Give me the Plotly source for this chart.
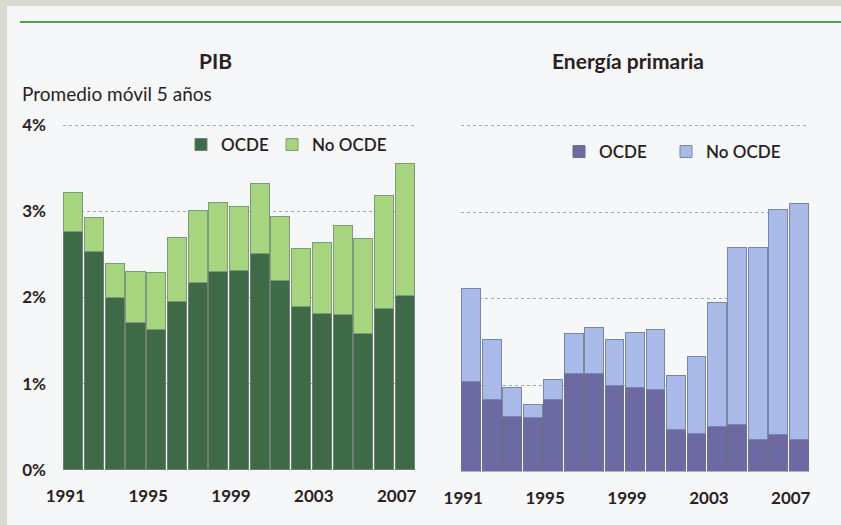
import plotly.graph_objects as go

W, H = 841, 525

years = list(range(1991, 2008))
tick_years = [1991, 1995, 1999, 2003, 2007]
tick_labels_y = ["0%", "1%", "2%", "3%", "4%"]

# PIB (promedio móvil 5 años, %)
pib_ocde = [2.77, 2.53, 2.00, 1.71, 1.63, 1.95, 2.17, 2.30, 2.31, 2.51, 2.20, 1.89, 1.81, 1.80, 1.58, 1.87, 2.02]
pib_no_ocde = [0.45, 0.40, 0.39, 0.59, 0.66, 0.75, 0.84, 0.80, 0.75, 0.81, 0.74, 0.68, 0.83, 1.03, 1.10, 1.31, 1.53]

# Energía primaria
ene_ocde = [1.04, 0.83, 0.64, 0.62, 0.83, 1.13, 1.13, 0.99, 0.97, 0.95, 0.48, 0.44, 0.52, 0.54, 0.37, 0.43, 0.37]
ene_no_ocde = [1.08, 0.70, 0.33, 0.15, 0.23, 0.46, 0.53, 0.54, 0.64, 0.69, 0.63, 0.89, 1.43, 2.05, 2.22, 2.60, 2.73]

FONT = "Lato"
TXT = "#2b1f24"

def px_x(p):
    return p / W

def px_y(p):
    return 1 - p / H

fig = go.Figure()

fig.add_trace(go.Bar(x=years, y=pib_ocde, name="OCDE", legendwidth=46,
                     marker=dict(color="#3e6a47", line=dict(color="#6f7f74", width=1)),
                     xaxis="x", yaxis="y", legend="legend"))
fig.add_trace(go.Bar(x=years, y=pib_no_ocde, name="No OCDE", legendwidth=80,
                     marker=dict(color="#a6d47f", line=dict(color="#7f9a78", width=1)),
                     xaxis="x", yaxis="y", legend="legend"))
fig.add_trace(go.Bar(x=years, y=ene_ocde, name="OCDE", legendwidth=62,
                     marker=dict(color="#6c69a3", line=dict(color="#6a6f86", width=1)),
                     xaxis="x2", yaxis="y2", legend="legend2"))
fig.add_trace(go.Bar(x=years, y=ene_no_ocde, name="No OCDE", legendwidth=80,
                     marker=dict(color="#a9b9e8", line=dict(color="#7a86a6", width=1)),
                     xaxis="x2", yaxis="y2", legend="legend2"))

grid = dict(showgrid=True, gridcolor="#9ea8b2", griddash="dot", gridwidth=1)
tickfont = dict(family=FONT, size=17, color=TXT, weight="bold")

xcommon = dict(tickmode="array", tickvals=tick_years, ticktext=[str(t) for t in tick_years],
               showgrid=False, zeroline=False, showline=False, ticks="", tickfont=tickfont,
               ticklabelstandoff=14, ticklabelshift=-8, range=[1990.5, 2007.5], fixedrange=True,
               automargin=False)

legfont = dict(family=FONT, size=17, color=TXT, weight=600)

fig.update_layout(
    autosize=True,
    margin=dict(l=0, r=0, t=0, b=0, pad=0, autoexpand=False),
    paper_bgcolor="#d9d9d2",
    plot_bgcolor="rgba(0,0,0,0)",
    barmode="stack",
    bargap=0.08,
    xaxis=dict(domain=[px_x(63), px_x(415)], anchor="y", **xcommon),
    xaxis2=dict(domain=[px_x(461), px_x(809)], anchor="y2", **xcommon),
    yaxis=dict(domain=[px_y(470), px_y(120.7)], range=[0, 4.05], anchor="x", automargin=False,
               tickmode="array", tickvals=[0, 1, 2, 3, 4], ticktext=tick_labels_y, fixedrange=True,
               tickfont=tickfont, ticks="", ticklabelstandoff=16, zeroline=False, showline=False, **grid),
    yaxis2=dict(domain=[px_y(471.5), px_y(121.2)], range=[0, 4.05], anchor="x2", automargin=False,
                tickmode="array", tickvals=[0, 1, 2, 3, 4], showticklabels=False, fixedrange=True,
                ticks="", zeroline=False, showline=False, **grid),
    legend=dict(orientation="h", x=px_x(181), xanchor="left", y=px_y(145), yanchor="middle",
                bgcolor="rgba(0,0,0,0)", font=legfont, traceorder="normal"),
    legend2=dict(orientation="h", x=px_x(559), xanchor="left", y=px_y(152), yanchor="middle",
                 bgcolor="rgba(0,0,0,0)", font=legfont, traceorder="normal"),
    shapes=[
        dict(type="rect", xref="paper", yref="paper", x0=px_x(7), x1=1, y0=0, y1=px_y(6),
             fillcolor="#f6f7f9", line=dict(width=0), layer="below"),
        dict(type="line", xref="paper", yref="paper", x0=px_x(20), x1=1, y0=px_y(22), y1=px_y(22),
             line=dict(color="#4fa64a", width=2)),
    ],
    annotations=[
        dict(text="PIB", xref="paper", yref="paper", x=px_x(215), y=px_y(60), showarrow=False,
             xanchor="center", yanchor="middle", font=dict(family=FONT, size=21, color=TXT, weight="bold")),
        dict(text="Energía primaria", xref="paper", yref="paper", x=px_x(628), y=px_y(60), showarrow=False,
             xanchor="center", yanchor="middle", font=dict(family=FONT, size=21, color=TXT, weight="bold")),
        dict(text="Promedio móvil 5 años", xref="paper", yref="paper", x=px_x(20), y=px_y(93), showarrow=False,
             xanchor="left", yanchor="middle", font=dict(family=FONT, size=19, color=TXT)),
    ],
    showlegend=True,
)

fig.write_html(
    "out.html",
    default_width="100vw",
    default_height="100vh",
    config={"displayModeBar": False, "responsive": True},
    post_script=("document.body.style.margin='0px';document.body.style.overflow='hidden';"
                 "Plotly.Plots.resize(document.getElementById('{plot_id}'));"),
)
